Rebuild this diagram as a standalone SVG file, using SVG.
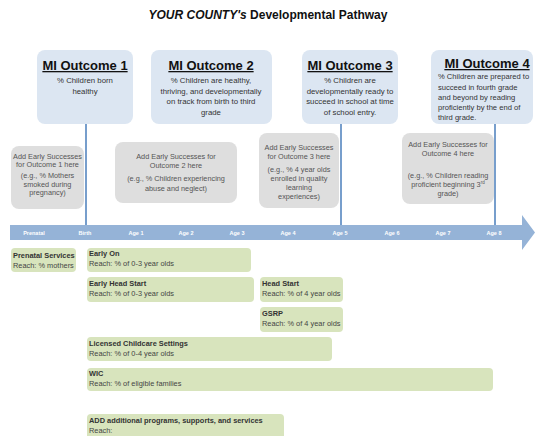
<svg xmlns="http://www.w3.org/2000/svg" width="535" height="436" viewBox="0 0 535 436">
<style>
text{font-family:"Liberation Sans",Arial,sans-serif}
.title{font-size:12px;font-weight:bold;fill:#111}
.ob{fill:#dce6f2}
.oh{font-size:13px;font-weight:bold;fill:#111;text-decoration:underline;text-anchor:middle}
.ot{font-size:7.8px;fill:#333;text-anchor:middle}
.ol{font-size:7.6px;fill:#333}
.gb{fill:#dedede}
.gt{font-size:7.3px;fill:#555;text-anchor:middle}
.grn{fill:#d8e4bd}
.pn{font-size:7.4px;font-weight:bold;fill:#333}
.pr{font-size:7.4px;fill:#444}
.tl{font-size:5.5px;font-weight:bold;fill:#ffffff;text-anchor:middle}
.vl{stroke:#4a7ebb;stroke-width:1.5;fill:none}
</style>
<rect width="535" height="436" fill="#ffffff"/>
<text class="title" x="268" y="19" text-anchor="middle"><tspan font-style="italic">YOUR COUNTY's</tspan> Developmental Pathway</text>

<g id="connectors">
<line class="vl" x1="86" y1="124" x2="86" y2="226"/>
<line class="vl" x1="341" y1="124" x2="341" y2="226"/>
<line class="vl" x1="495" y1="124" x2="495" y2="226"/>
</g>

<g id="outcome1">
<rect class="ob" x="37" y="50" width="96" height="74" rx="8"/>
<text class="oh" x="85" y="70">MI Outcome 1</text>
<text class="ot" x="85" y="83">% Children born</text>
<text class="ot" x="85" y="94">healthy</text>
</g>
<g id="outcome2">
<rect class="ob" x="151" y="50" width="121" height="74" rx="8"/>
<text class="oh" x="211" y="70">MI Outcome 2</text>
<text class="ot" x="211" y="83">% Children are healthy,</text>
<text class="ot" x="211" y="93.5">thriving, and developmentally</text>
<text class="ot" x="211" y="104">on track from birth to third</text>
<text class="ot" x="211" y="115">grade</text>
</g>
<g id="outcome3">
<rect class="ob" x="302" y="50" width="96" height="74" rx="8"/>
<text class="oh" x="350" y="70">MI Outcome 3</text>
<text class="ot" x="350" y="83">% Children are</text>
<text class="ot" x="350" y="93.5">developmentally ready to</text>
<text class="ot" x="350" y="104">succeed in school at time</text>
<text class="ot" x="350" y="115">of school entry.</text>
</g>
<g id="outcome4">
<rect class="ob" x="431" y="50" width="102" height="74" rx="8"/>
<text class="oh" x="487" y="68">MI Outcome 4</text>
<text class="ol" x="438" y="79">% Children are prepared to</text>
<text class="ol" x="438" y="89.5">succeed in fourth grade</text>
<text class="ol" x="438" y="99.5">and beyond by reading</text>
<text class="ol" x="438" y="109.5">proficiently by the end of</text>
<text class="ol" x="438" y="120">third grade.</text>
</g>

<g id="success1">
<rect class="gb" x="11" y="146" width="73" height="63" rx="8"/>
<text class="gt" x="47.5" y="159">Add Early Successes</text>
<text class="gt" x="47.5" y="167">for Outcome 1 here</text>
<text class="gt" x="47.5" y="178">(e.g., % Mothers</text>
<text class="gt" x="47.5" y="186.5">smoked during</text>
<text class="gt" x="47.5" y="195">pregnancy)</text>
</g>
<g id="success2">
<rect class="gb" x="115" y="142" width="122" height="61" rx="8"/>
<text class="gt" x="176" y="158.5">Add Early Successes for</text>
<text class="gt" x="176" y="168">Outcome 2 here</text>
<text class="gt" x="176" y="181">(e.g., % Children experiencing</text>
<text class="gt" x="176" y="190.5">abuse and neglect)</text>
</g>
<g id="success3">
<rect class="gb" x="259" y="133" width="80" height="75" rx="8"/>
<text class="gt" x="299" y="149.5">Add Early Successes</text>
<text class="gt" x="299" y="158.5">for Outcome 3 here</text>
<text class="gt" x="299" y="172">(e.g., % 4 year olds</text>
<text class="gt" x="299" y="181">enrolled in quality</text>
<text class="gt" x="299" y="190">learning</text>
<text class="gt" x="299" y="199">experiences)</text>
</g>
<g id="success4">
<rect class="gb" x="402" y="133" width="92" height="71" rx="8"/>
<text class="gt" x="448" y="146.5">Add Early Successes for</text>
<text class="gt" x="448" y="155.5">Outcome 4 here</text>
<text class="gt" x="448" y="177.5">(e.g., % Children reading</text>
<text class="gt" x="448" y="186.5">proficient beginning 3<tspan font-size="4.5px" dy="-2.5">rd</tspan></text>
<text class="gt" x="448" y="196">grade)</text>
</g>

<g id="timeline">
<polygon points="10,225 522,225 522,215 535,232.5 522,250 522,240 10,240" fill="#95b3d7"/>
<text class="tl" x="34" y="234.5">Prenatal</text>
<text class="tl" x="85" y="234.5">Birth</text>
<text class="tl" x="136" y="234.5">Age 1</text>
<text class="tl" x="186" y="234.5">Age 2</text>
<text class="tl" x="237" y="234.5">Age 3</text>
<text class="tl" x="288" y="234.5">Age 4</text>
<text class="tl" x="340" y="234.5">Age 5</text>
<text class="tl" x="392" y="234.5">Age 6</text>
<text class="tl" x="443" y="234.5">Age 7</text>
<text class="tl" x="494" y="234.5">Age 8</text>
</g>

<g id="prenatal-services">
<rect class="grn" x="11" y="248" width="65" height="24" rx="4"/>
<text class="pn" x="13" y="257.5">Prenatal Services</text>
<text class="pr" x="13" y="267.5">Reach: % mothers</text>
</g>
<g id="early-on">
<rect class="grn" x="87" y="248" width="164" height="24" rx="4"/>
<text class="pn" x="89" y="256">Early On</text>
<text class="pr" x="89" y="266">Reach: % of 0-3 year olds</text>
</g>
<g id="early-head-start">
<rect class="grn" x="87" y="277" width="167" height="25" rx="4"/>
<text class="pn" x="89" y="285.5">Early Head Start</text>
<text class="pr" x="89" y="295.5">Reach: % of 0-3 year olds</text>
</g>
<g id="head-start">
<rect class="grn" x="260" y="277" width="83" height="25" rx="4"/>
<text class="pn" x="262" y="285.5">Head Start</text>
<text class="pr" x="262" y="295.5">Reach: % of 4 year olds</text>
</g>
<g id="gsrp">
<rect class="grn" x="260" y="307" width="83" height="25" rx="4"/>
<text class="pn" x="262" y="315.5">GSRP</text>
<text class="pr" x="262" y="325.5">Reach: % of 4 year olds</text>
</g>
<g id="licensed-childcare">
<rect class="grn" x="87" y="337" width="245" height="24" rx="4"/>
<text class="pn" x="89" y="345.5">Licensed Childcare Settings</text>
<text class="pr" x="89" y="355.5">Reach: % of 0-4 year olds</text>
</g>
<g id="wic">
<rect class="grn" x="87" y="368" width="406" height="23" rx="4"/>
<text class="pn" x="89" y="376">WIC</text>
<text class="pr" x="89" y="386">Reach: % of eligible families</text>
</g>
<g id="add-programs">
<rect class="grn" x="87" y="414" width="197" height="26" rx="4"/>
<text class="pn" x="89" y="422.5">ADD additional programs, supports, and services</text>
<text class="pr" x="89" y="432.5">Reach:</text>
</g>
</svg>
